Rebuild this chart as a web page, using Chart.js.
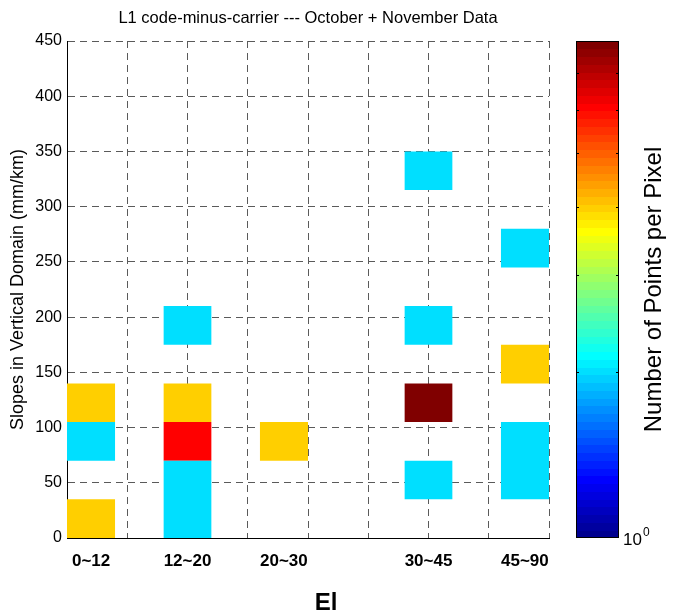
<!DOCTYPE html>
<html>
<head>
<meta charset="utf-8">
<script src="https://cdn.jsdelivr.net/npm/chart.js@4/dist/chart.umd.min.js"></script>
<style>
  body { margin: 0; background: #fff; }
  #wrap { width: 680px; height: 614px; }
</style>
</head>
<body>
<div id="wrap"><canvas id="c" width="680" height="614"></canvas></div>
<script>
// elevation bins (x) and where their labels sit on the 0..8 x axis
var elBins = ['0~12', '12~20', '20~30', '30~45', '45~90'];
var elCenters = [0.4, 2.0, 3.6, 6.0, 7.6];

// histogram cells: bin index, slope range (mm/km), points per pixel
var cellBin   = [0, 0, 0, 1, 1, 1, 1, 2, 3, 3, 3, 3, 4, 4, 4];
var cellLow   = [0, 70, 105, 0, 70, 105, 175, 70, 35, 105, 175, 315, 35, 140, 245];
var cellHigh  = [35, 105, 140, 70, 105, 140, 210, 105, 70, 140, 210, 350, 105, 175, 280];
var cellCount = [4, 2, 4, 2, 6, 4, 2, 4, 2, 8, 2, 2, 2, 4, 2];

var yTicks = [0, 50, 100, 150, 200, 250, 300, 350, 400, 450];
var countMax = 8;           // colour scale is log10, 1..8
var cbTicks = [2, 3, 4, 5, 6, 7];

var FONT = '"Liberation Sans", Arial, Helvetica, sans-serif';

// MATLAB jet(64), 1-based row
function jetRow(row) {
  var u = function(j) {
    if (j < 1 || j > 47) return 0;
    if (j <= 16) return j / 16;
    if (j <= 31) return 1;
    return (48 - j) / 16;
  };
  return [u(row - 24), u(row - 8), u(row + 8)];
}
function rgb(a) {
  return 'rgb(' + Math.round(a[0] * 255) + ',' + Math.round(a[1] * 255) + ',' + Math.round(a[2] * 255) + ')';
}
function countColor(n) {
  var t = Math.log(n) / Math.log(countMax);
  var idx = Math.min(63, Math.floor(t * 64));
  return rgb(jetRow(idx + 1));
}

var halfW = 0.4;
var datasets = cellBin.map(function(b, i) {
  var c = elCenters[b];
  return {
    data: [{ x: c - halfW, y: cellHigh[i] }, { x: c + halfW, y: cellHigh[i] }],
    fill: { value: cellLow[i] },
    backgroundColor: countColor(cellCount[i]),
    borderWidth: 0,
    borderColor: 'rgba(0,0,0,0)',
    pointRadius: 0,
    pointHoverRadius: 0,
    tension: 0
  };
});

// colour bar on the right, plus the x label
var colorbar = {
  id: 'colorbar',
  afterDraw: function(chart) {
    var ctx = chart.ctx;
    var area = chart.chartArea;
    var x0 = 576, x1 = 619, top = area.top, bot = area.bottom;
    var h = bot - top;
    ctx.save();
    for (var r = 1; r <= 64; r++) {
      var ya = bot - h * r / 64, yb = bot - h * (r - 1) / 64;
      ctx.fillStyle = rgb(jetRow(r));
      ctx.fillRect(x0, Math.floor(ya), x1 - x0, Math.ceil(yb) - Math.floor(ya));
    }
    ctx.strokeStyle = '#000';
    ctx.lineWidth = 1;
    ctx.strokeRect(x0 + 0.5, top + 0.5, x1 - x0 - 1, h - 1);
    cbTicks.forEach(function(v) {
      var y = Math.round(bot - h * Math.log(v) / Math.log(countMax)) + 0.5;
      ctx.beginPath();
      ctx.moveTo(x0, y); ctx.lineTo(x0 + 3, y);
      ctx.moveTo(x1, y); ctx.lineTo(x1 - 3, y);
      ctx.stroke();
    });
    ctx.fillStyle = '#000';
    ctx.textBaseline = 'alphabetic';
    ctx.textAlign = 'left';
    ctx.font = '17px ' + FONT;
    ctx.fillText('10', 623, 545);
    var w = ctx.measureText('10').width;
    ctx.font = '12px ' + FONT;
    ctx.fillText('0', 623 + w + 1, 536);

    ctx.font = 'bold 24px ' + FONT;
    ctx.textAlign = 'center';
    ctx.textBaseline = 'middle';
    ctx.fillText('El', 326, 603);

    ctx.translate(654, (top + bot) / 2);
    ctx.rotate(-Math.PI / 2);
    ctx.font = '24px ' + FONT;
    ctx.fillText('Number of Points per Pixel', 0, 0);
    ctx.restore();
  }
};

var gridCol = '#5a5a5a';

new Chart(document.getElementById('c'), {
  type: 'line',
  data: { datasets: datasets },
  options: {
    responsive: false,
    animation: false,
    layout: { padding: { left: 0, right: 131, top: 0, bottom: 0 } },
    plugins: {
      legend: { display: false },
      tooltip: { enabled: false },
      title: {
        display: true,
        fullSize: false,
        text: 'L1 code-minus-carrier --- October + November Data',
        color: '#000',
        font: { family: FONT, size: 16.5, weight: 'normal', lineHeight: 1.2 },
        padding: { top: 9, bottom: 12.2 }
      }
    },
    scales: {
      x: {
        type: 'linear',
        min: 0,
        max: 8,
        afterBuildTicks: function(scale) {
          var vals = [0, 1, 2, 3, 4, 5, 6, 7, 8];
          elCenters.forEach(function(c) { if (vals.indexOf(c) < 0) vals.push(c); });
          vals.sort(function(a, b) { return a - b; });
          scale.ticks = vals.map(function(v) { return { value: v }; });
        },
        afterFit: function(scale) { scale.height = 76; },
        grid: {
          drawTicks: false,
          color: function(ctx) {
            return Number.isInteger(ctx.tick && ctx.tick.value) ? gridCol : 'rgba(0,0,0,0)';
          }
        },
        border: { display: true, color: '#000', width: 1, dash: [7, 5] },
        ticks: {
          autoSkip: false,
          maxRotation: 0,
          padding: 13,
          color: '#000',
          font: { family: FONT, size: 17, weight: 'bold' },
          callback: function(v) {
            var i = elCenters.indexOf(v);
            return i >= 0 ? elBins[i] : '';
          }
        }
      },
      y: {
        type: 'linear',
        min: 0,
        max: 450,
        afterBuildTicks: function(scale) {
          scale.ticks = yTicks.map(function(v) { return { value: v }; });
        },
        afterFit: function(scale) { scale.width = 67; },
        grid: { drawTicks: false, color: gridCol },
        border: { display: true, color: '#000', width: 1, dash: [7, 5] },
        ticks: {
          padding: 5,
          color: '#000',
          font: { family: FONT, size: 16 }
        },
        title: {
          display: true,
          text: 'Slopes in Vertical Domain (mm/km)',
          color: '#000',
          font: { family: FONT, size: 18, lineHeight: 1.2 },
          padding: { top: 7, bottom: 0 }
        }
      }
    }
  },
  plugins: [colorbar]
});
</script>
</body>
</html>
